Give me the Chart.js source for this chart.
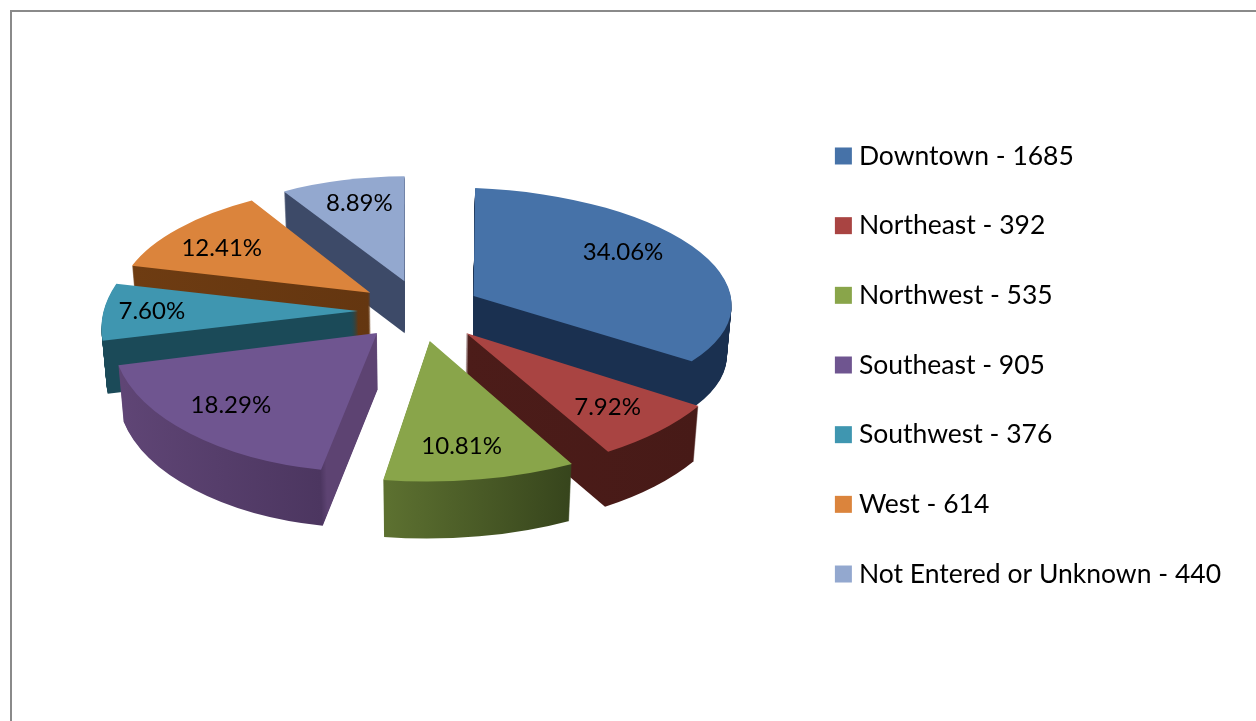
<!DOCTYPE html>
<html>
<head>
<meta charset="utf-8">
<style>
  html, body { margin: 0; padding: 0; background: #fff; overflow: hidden; }
  #wrap { position: relative; width: 1256px; height: 721px; }
  #frame { position: absolute; left: 10px; top: 10px; width: 1300px; height: 800px; border: 2px solid #8a8a8a; }
  canvas { position: absolute; left: 0; top: 0; }
</style>
<script src="https://cdn.jsdelivr.net/npm/chart.js@4"></script>
</head>
<body>
<div id="wrap">
  <div id="frame"></div>
  <canvas id="chart-pie" width="1256" height="721"></canvas>
</div>
<script>
// data
var categories = ["Downtown", "Northeast", "Northwest", "Southeast", "Southwest", "West", "Not Entered or Unknown"];
var values = [1685, 392, 535, 905, 376, 614, 440];
var percentLabels = ["34.06%", "7.92%", "10.81%", "18.29%", "7.60%", "12.41%", "8.89%"];

// colours
var topColors = ["#4672a8", "#a94442", "#89a54a", "#6f5590", "#3f96b0", "#db843c", "#93a8cf"];
var wallStops = [
  [[0, "#1a3050"], [1, "#1a3050"]],
  [[0, "#4c1c19"], [1, "#471a17"]],
  [[0, "#5c7030"], [1, "#36441c"]],
  [[0, "#5f4575"], [0.81, "#4c3660"], [0.83, "#5d4372"], [1, "#5d4372"]],
  [[0, "#1b4a58"], [1, "#1b4a58"]],
  [[0, "#6e3c12"], [1, "#643610"]],
  [[0, "#3d4a68"], [1, "#3d4a68"]],
];

// fake 3d look: the pie is tilted, front wedges come out bigger than the back ones
var tilt = { centerX: 421, centerY: 310.7, squash: 0.51, explode: 60, radius: 255, taper: 0.0003 };
// per wedge projection [xx, xy, yx, yy] fitted by eye to the wedge corners
var wedgeShape = [
  [258, 9, 0, 108],
  [275.5, -5.4, 5.7, 140],
  [298, -2.3, 1.9, 140.7],
  [264.7, 2.1, -9, 139.4],
  [254.5, -0.6, -33, 130],
  [250.3, 0.9, -19.5, 109],
  [240, 0, -4, 105],
];
var wedgeNudge = [0, 4, -1, -3, -3, -2, 0];
var wedgeDepth = [50, 55, 57, 56, 53, 50, 52];
var labelAtX = [0.66, 0.752, 0.654, 0.81, 0.81, 0.73, 0.68];
var labelAtY = [0.85, 0.725, 0.757, 0.706, 0.7, 0.71, 0.77];
var drawOrder = [6, 5, 4, 0, 1, 3, 2];

var pie3d = {
  id: "pie3d",
  beforeDatasetsDraw: function (chart) {
    var ctx = chart.ctx;
    var arcs = chart.getDatasetMeta(0).data;

    // ArcElement grows narrow slices when they have an offset
    function drawnRadius(el) {
      return tilt.radius + tilt.explode * (1 - Math.sin(Math.min(Math.PI, el.circumference)));
    }

    function apexX(i) {
      var el = arcs[i];
      return tilt.centerX + wedgeNudge[i] + Math.cos((el.startAngle + el.endAngle) / 2) * tilt.explode;
    }

    function apexY(i) {
      var el = arcs[i];
      return tilt.centerY + Math.sin((el.startAngle + el.endAngle) / 2) * tilt.explode * tilt.squash;
    }

    function place(i, drop) {
      var el = arcs[i];
      var mid = (el.startAngle + el.endAngle) / 2;
      var r = drawnRadius(el);
      var s = wedgeShape[i];
      ctx.translate(tilt.centerX, 0);
      ctx.scale(1 - drop * tilt.taper, 1);
      ctx.translate(-tilt.centerX, 0);
      ctx.translate(apexX(i), apexY(i) + drop);
      ctx.transform(s[0] / r, s[1] / r, s[2] / r, s[3] / r, 0, 0);
      ctx.translate(-(el.x + Math.cos(mid) * tilt.explode), -(el.y + Math.sin(mid) * tilt.explode));
    }

    drawOrder.forEach(function (i) {
      var el = arcs[i];
      var saved = el.options;
      var r = drawnRadius(el);

      // horizontal shading over the wall, the arc's own offset is already in the ctx when it fills
      var xs = [el.x];
      for (var a = el.startAngle; a < el.endAngle; a += 0.05) xs.push(el.x + Math.cos(a) * r);
      var grad = ctx.createLinearGradient(Math.min.apply(null, xs), 0, Math.max.apply(null, xs), 0);
      wallStops[i].forEach(function (s) { grad.addColorStop(s[0], s[1]); });

      el.options = Object.assign({}, saved, { backgroundColor: grad });
      for (var d = wedgeDepth[i]; d >= 1; d--) {
        ctx.save();
        place(i, d);
        el.draw(ctx);
        ctx.restore();
      }
      el.options = saved;

      ctx.save();
      place(i, 0);
      el.draw(ctx);
      ctx.restore();
    });

    // percent labels on top of the wedges
    ctx.save();
    ctx.font = "24px Lato";
    ctx.fillStyle = "#000";
    ctx.textAlign = "center";
    ctx.textBaseline = "middle";
    arcs.forEach(function (el, i) {
      var mid = (el.startAngle + el.endAngle) / 2;
      var s = wedgeShape[i];
      ctx.fillText(percentLabels[i], apexX(i) + Math.cos(mid) * s[0] * labelAtX[i], apexY(i) + Math.sin(mid) * s[3] * labelAtY[i]);
    });
    ctx.restore();
    return false;
  }
};

new Chart(document.getElementById("chart-pie").getContext("2d"), {
  type: "pie",
  plugins: [pie3d],
  data: {
    labels: categories.map(function (c, i) { return c + " - " + values[i]; }),
    datasets: [
      {
        data: values,
        backgroundColor: topColors,
        borderWidth: 0,
        offset: tilt.explode * 4,
        radius: tilt.radius,
      },
    ],
  },
  options: {
    responsive: false,
    animation: false,
    events: [],
    layout: { padding: { top: 9, right: 25 } },
    plugins: {
      tooltip: { enabled: false },
      legend: {
        position: "right",
        labels: {
          color: "#000",
          font: { size: 26.5, family: "Lato" },
          usePointStyle: true,
          pointStyle: "rect",
          boxWidth: 4.5,
          boxHeight: 17,
          padding: 43.17,
        },
      },
    },
  },
});
</script>
</body>
</html>
